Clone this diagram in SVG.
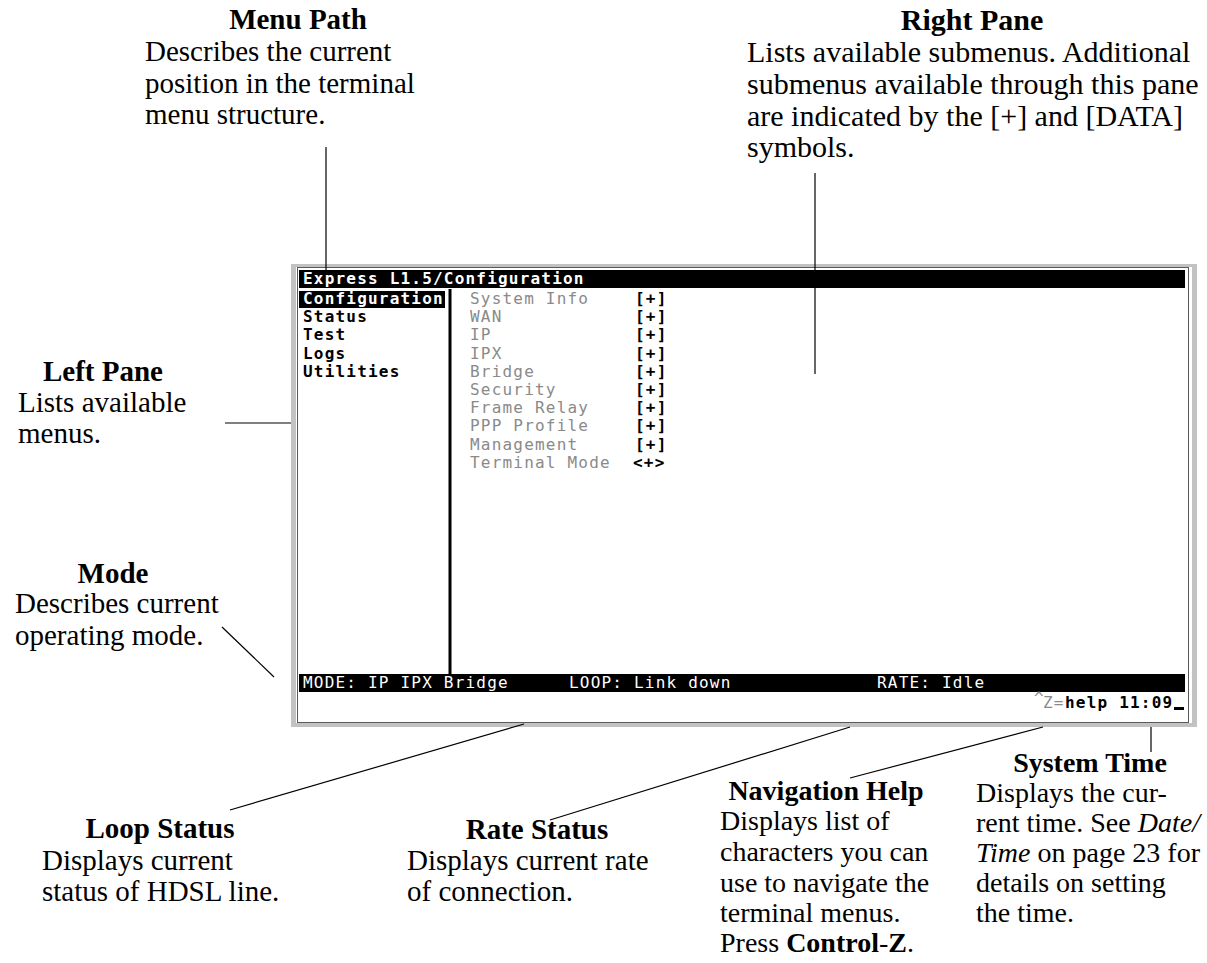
<svg xmlns="http://www.w3.org/2000/svg" width="1207" height="963" viewBox="0 0 1207 963">
<style>
.t{font-family:"Liberation Serif","Times New Roman",serif;font-size:29px;fill:#000}
.t30{font-size:30px}
.t28{font-size:28px}
.b{font-weight:bold}
.i{font-style:italic}
.m{font-family:"DejaVu Sans Mono","Liberation Mono",monospace;font-size:16px;letter-spacing:1.2px}
.w{fill:#fff;font-weight:bold}
.ws{fill:#fff}
.k{fill:#000;font-weight:bold}
.g{fill:#8a8a8a}
.ln{stroke:#000;stroke-width:1.2;fill:none}
</style>
<rect width="1207" height="963" fill="#fff"/>
<g id="terminal">
  <rect x="291" y="264" width="906" height="463" fill="#c2c2c2"/>
  <rect x="296" y="267" width="896" height="456" fill="#fff"/>
  <rect x="297.5" y="267.5" width="891" height="455" fill="none" stroke="#5a5a5a" stroke-width="1"/>
  <rect x="299" y="270" width="886" height="18" fill="#000"/>
  <text class="m w" x="303" y="284">Express L1.5/Configuration</text>
  <rect x="299" y="291" width="146" height="17" fill="#000"/>
  <rect x="448.5" y="289" width="3" height="385" fill="#000"/>
  <g id="left-menu">
    <text class="m w" x="303" y="304">Configuration</text>
    <text class="m k" x="303" y="322">Status</text>
    <text class="m k" x="303" y="340">Test</text>
    <text class="m k" x="303" y="359">Logs</text>
    <text class="m k" x="303" y="377">Utilities</text>
  </g>
  <g id="right-menu">
    <text class="m g" x="470" y="304">System Info</text>
    <text class="m g" x="470" y="322">WAN</text>
    <text class="m g" x="470" y="340">IP</text>
    <text class="m g" x="470" y="359">IPX</text>
    <text class="m g" x="470" y="377">Bridge</text>
    <text class="m g" x="470" y="395">Security</text>
    <text class="m g" x="470" y="413">Frame Relay</text>
    <text class="m g" x="470" y="431">PPP Profile</text>
    <text class="m g" x="470" y="450">Management</text>
    <text class="m g" x="470" y="468">Terminal Mode</text>
    <text class="m k" x="635" y="304">[+]</text>
    <text class="m k" x="635" y="322">[+]</text>
    <text class="m k" x="635" y="340">[+]</text>
    <text class="m k" x="635" y="359">[+]</text>
    <text class="m k" x="635" y="377">[+]</text>
    <text class="m k" x="635" y="395">[+]</text>
    <text class="m k" x="635" y="413">[+]</text>
    <text class="m k" x="635" y="431">[+]</text>
    <text class="m k" x="635" y="450">[+]</text>
    <text class="m k" x="633" y="468">&lt;+&gt;</text>
  </g>
  <rect x="299" y="674" width="886" height="18" fill="#000"/>
  <text class="m ws" x="303" y="688">MODE: IP IPX Bridge</text>
  <text class="m ws" x="569" y="688">LOOP: Link down</text>
  <text class="m ws" x="877" y="688">RATE: Idle</text>
  <text class="m g" x="1034" y="703" font-size="11">^</text>
  <text class="m g" x="1043" y="708">Z=</text>
  <text class="m k" x="1065" y="708">help 11:09</text>
  <rect x="1174" y="707" width="10" height="3" fill="#000"/>
</g>
<g id="connectors">
  <path class="ln" d="M326 147V270"/>
  <path class="ln" d="M815 173V374"/>
  <path class="ln" d="M225 423H291"/>
  <path class="ln" d="M222 627L274 677"/>
  <path class="ln" d="M230 810L524 724"/>
  <path class="ln" d="M550 820L850 727"/>
  <path class="ln" d="M850 778L1043 727"/>
  <path class="ln" d="M1151 727V752"/>
</g>
<g id="menu-path">
  <text class="t b" x="298" y="29" text-anchor="middle">Menu Path</text>
  <text class="t" x="145" y="61">Describes the current</text>
  <text class="t" x="145" y="93">position in the terminal</text>
  <text class="t" x="145" y="124">menu structure.</text>
</g>
<g id="right-pane">
  <text class="t t30 b" x="972" y="30" text-anchor="middle">Right Pane</text>
  <text class="t t30" x="747" y="62">Lists available submenus. Additional</text>
  <text class="t t30" x="747" y="94">submenus available through this pane</text>
  <text class="t t30" x="747" y="126">are indicated by the [+] and [DATA]</text>
  <text class="t t30" x="747" y="157">symbols.</text>
</g>
<g id="left-pane">
  <text class="t b" x="103" y="381" text-anchor="middle">Left Pane</text>
  <text class="t" x="18" y="412">Lists available</text>
  <text class="t" x="18" y="443">menus.</text>
</g>
<g id="mode">
  <text class="t b" x="113" y="583" text-anchor="middle">Mode</text>
  <text class="t" x="15" y="613">Describes current</text>
  <text class="t" x="15" y="645">operating mode.</text>
</g>
<g id="loop-status">
  <text class="t b" x="160" y="838" text-anchor="middle">Loop Status</text>
  <text class="t" x="42" y="870">Displays current</text>
  <text class="t" x="42" y="901">status of HDSL line.</text>
</g>
<g id="rate-status">
  <text class="t b" x="537" y="839" text-anchor="middle">Rate Status</text>
  <text class="t" x="407" y="870">Displays current rate</text>
  <text class="t" x="407" y="901">of connection.</text>
</g>
<g id="navigation-help">
  <text class="t t28 b" x="826" y="800" text-anchor="middle">Navigation Help</text>
  <text class="t t28" x="720" y="830">Displays list of</text>
  <text class="t t28" x="720" y="861">characters you can</text>
  <text class="t t28" x="720" y="892">use to navigate the</text>
  <text class="t t28" x="720" y="922">terminal menus.</text>
  <text class="t t28" x="720" y="952">Press <tspan class="b">Control</tspan>-<tspan class="b">Z</tspan>.</text>
</g>
<g id="system-time">
  <text class="t t28 b" x="1090" y="772" text-anchor="middle">System Time</text>
  <text class="t t28" x="976" y="802">Displays the cur-</text>
  <text class="t t28" x="976" y="832">rent time. See <tspan class="i">Date/</tspan></text>
  <text class="t t28" x="976" y="862"><tspan class="i">Time</tspan> on page 23 for</text>
  <text class="t t28" x="976" y="892">details on setting</text>
  <text class="t t28" x="976" y="922">the time.</text>
</g>
</svg>
